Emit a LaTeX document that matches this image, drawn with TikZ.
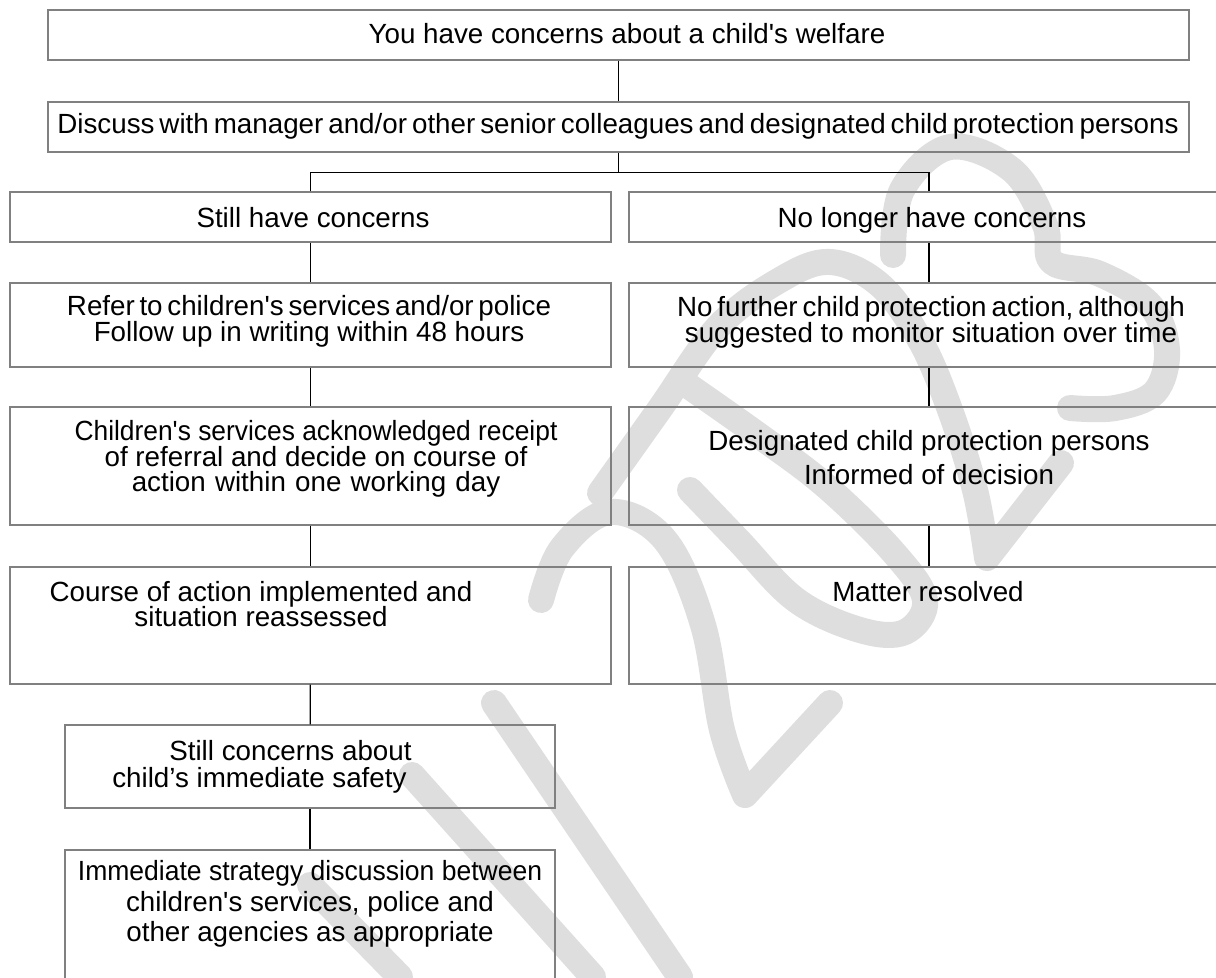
\documentclass[tikz,border=0pt]{standalone}
\usepackage{fontspec}
\setmainfont{Liberation Sans}
\usetikzlibrary{positioning}
\newcommand{\q}{\textquotesingle}
\newcommand{\squeeze}[2]{\scalebox{#1}[1]{#2}}
\newcommand{\tightlines}{\lineskiplimit=-20pt\relax}
\tikzset{
    box/.style={draw=black!50, line width=0.85pt, minimum height=1cm, inner sep=0pt},
    lbox/.style={box, minimum width=12.02cm},
    rbox/.style={box, minimum width=12cm},
    txt/.style={align=center, inner sep=0pt, font=\fontsize{15.8}{14.6}\selectfont\tightlines},
    conn/.style={draw=black, line width=0.7pt},
    mark2023/.style={draw=black!13, line width=14.8pt, line cap=round, line join=round}
}

\begin{document}
\begin{tikzpicture}[x=0.02cm, y=-0.02cm]
    \useasboundingbox (0,0) rectangle (1216,977);
    \clip (0,0) rectangle (1216,977);
    % watermark
    \draw[mark2023] plot[smooth, tension=0.6] coordinates {(541,600) (562,548) (610,512) (665,540) (703,625) (722,730) (745,795)} -- (830,703);
    \draw[mark2023] plot[smooth, tension=0.6] coordinates {(680,380) (761,437) (827,487) (894,553) (925,600) (905,632) (860,630) (796,600) (738,540) (690,490)};
    \draw[mark2023] plot[smooth, tension=0.6] coordinates {(600,493) (659,410) (718,327) (780,280) (830,262) (880,285) (920,340) (950,410) (975,490) (987,558)} -- (1061,463);
    \draw[mark2023] plot[smooth, tension=0.6] coordinates {(893,255) (902,190) (950,147) (1012,170) (1045,225) (1052,262) (1100,274) (1150,305) (1167,350) (1155,392) (1115,408) (1070,408)};
    \draw[mark2023] (494,703) -- (680,977);
    \draw[mark2023] (412,775) -- (593,977);
    \draw[mark2023] (310,885) -- (400,977);

    % boxes
    \node[box, minimum width=22.82cm] (concern) at (618.5,35) {};
    \node[box, minimum width=22.82cm] (discuss) at (618.5,127) {};
    \node[lbox] (still) at (310.5,217) {};
    \node[rbox] (nolonger) at (929,217) {};
    \node[lbox, minimum height=1.68cm] (refer) at (310.5,325) {};
    \node[rbox, minimum height=1.68cm] (nofurther) at (929,325) {};
    \node[lbox, minimum height=2.36cm] (ack) at (310.5,466) {};
    \node[rbox, minimum height=2.36cm] (designated) at (929,466) {};
    \node[lbox, minimum height=2.34cm] (course) at (310.5,625.5) {};
    \node[rbox, minimum height=2.34cm] (resolved) at (929,625.5) {};
    \node[box, minimum width=9.8cm, minimum height=1.66cm] (safety) at (310,766.5) {};
    \node[box, minimum width=9.8cm, minimum height=3cm] (strategy) at (310,925) {};

    % texts
    \node[txt] (concern-t) at (627,34) {You have concerns about a child\q s welfare};
    \node[txt] (discuss-t) at (618,126) {\spaceskip=.18em Discuss with manager and/or other senior colleagues and designated child protection persons};
    \node[txt, anchor=base] (still-t) at (313,227) {Still have concerns};
    \node[txt, anchor=base] (nolonger-t) at (932,227) {No longer have concerns};
    \node[txt] (refer-t) at (309,321) {{\spaceskip=.17em Refer to children\q s services and/or police}\\Follow up in writing within 48 hours};
    \node[txt] (nofurther-t) at (931,322) {{\spaceskip=.18em No further child protection action, although}\\suggested to monitor situation over time};
    \node[txt] (ack-t) at (316,459) {\squeeze{0.95}{Children\q s services acknowledged receipt}\\of referral and decide on course of\\{\spaceskip=.33em action within one working day}};
    \node[txt, font=\fontsize{15.8}{19.4}\selectfont] (designated-t) at (929,458) {Designated child protection persons\\Informed of decision};
    \node[txt] (course-t) at (261,604) {Course of action implemented and\\situation reassessed};
    \node[txt] (resolved-t) at (928,592) {Matter resolved};
    \node[txt, align=left, anchor=west, font=\fontsize{15.8}{15.4}\selectfont\tightlines] (safety-t) at (112,767) {\hspace*{1.14cm}Still concerns about\\child’s immediate safety};
    \node[txt, font=\fontsize{15.8}{17.3}\selectfont\tightlines] (strategy-t) at (310,904) {\squeeze{0.955}{Immediate strategy discussion between}\\children\q s services, police and\\other agencies as appropriate};

    % connectors
    \draw[conn] (concern) -- (discuss);
    \draw[conn] (discuss.south) -- ++(0,20) coordinate (split);
    \draw[conn] (still.north) |- (split) -| (nolonger.north);
    \draw[conn] (still) -- (refer);
    \draw[conn] (refer) -- (ack);
    \draw[conn] (ack) -- (course);
    \draw[conn] (course) -- (safety);
    \draw[conn] (safety) -- (strategy);
    \draw[conn] (nolonger) -- (nofurther);
    \draw[conn] (nofurther) -- (designated);
    \draw[conn] (designated) -- (resolved);
\end{tikzpicture}
\end{document}
